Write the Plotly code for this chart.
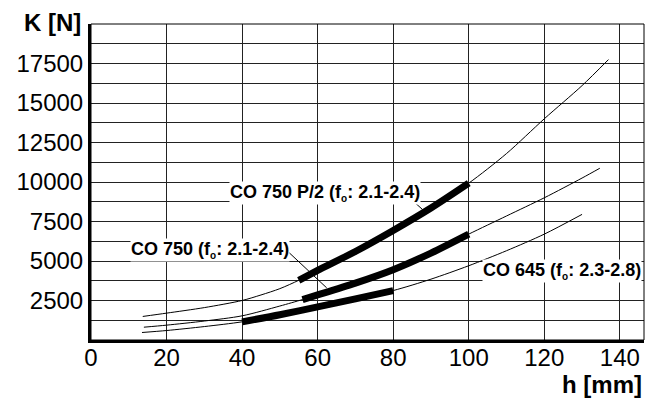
import plotly.graph_objects as go

# ---------------- data ----------------
h_p2 = [13.7, 20, 30, 40, 45, 50, 55, 60, 70, 80, 90, 100, 110, 120, 130, 137]
k_p2 = [1490, 1700, 2050, 2500, 2850, 3250, 3780, 4400, 5600, 6930, 8350, 9925, 11800, 14000, 16100, 17750]

h_750 = [14, 20, 30, 40, 50, 56, 60, 70, 80, 90, 100, 110, 120, 130, 134.7]
k_750 = [810, 940, 1200, 1530, 2150, 2560, 2850, 3600, 4450, 5500, 6700, 7850, 9000, 10250, 10870]

h_645 = [13.5, 20, 30, 40, 50, 60, 70, 80, 90, 100, 110, 120, 130]
k_645 = [475, 600, 850, 1150, 1600, 2100, 2600, 3130, 3850, 4700, 5650, 6700, 7950]

# working ranges drawn as thick bands
range_p2 = (55, 100)
range_750 = (56, 100)
range_645 = (40, 80)

SUB_O = "<sub><span style='font-size:10px'>o</span></sub>"
labels = ["CO 750 P/2 (f" + SUB_O + ": 2.1-2.4)",
          "CO 750 (f" + SUB_O + ": 2.1-2.4)",
          "CO 645 (f" + SUB_O + ": 2.3-2.8)"]

x_ticks = [0, 20, 40, 60, 80, 100, 120, 140]
y_ticks = [2500, 5000, 7500, 10000, 12500, 15000, 17500]
y_minor_step = 1250

FONT = "Liberation Sans, Arial, sans-serif"

fig = go.Figure()

def add_curve(h, k, rng):
    fig.add_trace(go.Scatter(x=h, y=k, mode="lines", line=dict(color="black", width=1, shape="spline", smoothing=0.8),
                             hoverinfo="skip", showlegend=False))
    hs = [a for a in h if rng[0] <= a <= rng[1]]
    ks = [b for a, b in zip(h, k) if rng[0] <= a <= rng[1]]
    fig.add_trace(go.Scatter(x=hs, y=ks, mode="lines", line=dict(color="black", width=7, shape="spline", smoothing=0.8),
                             hoverinfo="skip", showlegend=False))

add_curve(h_p2, k_p2, range_p2)
add_curve(h_750, k_750, range_750)
add_curve(h_645, k_645, range_645)

# leader lines
fig.add_shape(type="line", x0=86.0, y0=8640, x1=87.8, y1=8250, line=dict(color="black", width=1), layer="above")
fig.add_shape(type="line", x0=52.4, y0=5540, x1=62.4, y1=3300, line=dict(color="black", width=1), layer="above")

# thin frame (top/right)
fig.add_shape(type="rect", xref="paper", yref="paper", x0=0, y0=0, x1=1, y1=1,
              line=dict(color="black", width=1), layer="above")

ann_font = dict(family=FONT, size=18, color="black")
fig.add_annotation(x=62.0, y=9274, text="<b>" + labels[0] + "</b>", showarrow=False,
                   font=ann_font, bgcolor="white", borderpad=0, xanchor="center", yanchor="middle")
fig.add_annotation(x=31.5, y=5665, text="<b>" + labels[1] + "</b>", showarrow=False,
                   font=ann_font, bgcolor="white", borderpad=0, xanchor="center", yanchor="middle")
fig.add_annotation(x=146.0, y=4355, text="<b>" + labels[2] + "</b>", showarrow=False,
                   font=ann_font, bgcolor="white", borderpad=0, xanchor="right", yanchor="middle")

# axis titles
fig.add_annotation(xref="paper", yref="paper", x=0, y=1, text="<b>K [N]</b>", showarrow=False,
                   font=dict(family=FONT, size=24, color="black"), xanchor="right", yanchor="middle",
                   xshift=-8, yshift=2)
fig.add_annotation(xref="paper", yref="paper", x=1, y=0, text="<b>h [mm]</b>", showarrow=False,
                   font=dict(family=FONT, size=24, color="black"), xanchor="right", yanchor="middle",
                   xshift=0, yshift=-44)

fig.update_layout(
    width=658, height=398,
    margin=dict(l=91, r=14, t=24, b=58, autoexpand=False),
    paper_bgcolor="white", plot_bgcolor="white",
    font=dict(family=FONT, color="black"),
    xaxis=dict(range=[0, 146.4], tickmode="array", tickvals=x_ticks, ticktext=[str(v) for v in x_ticks],
               showgrid=True, gridcolor="#222", gridwidth=1, zeroline=False, automargin=False,
               showline=True, linecolor="black", linewidth=3, ticks="", ticklabelstandoff=-6,
               tickfont=dict(family=FONT, size=24, color="black")),
    yaxis=dict(range=[0, 20000], tickmode="array", tickvals=y_ticks, ticktext=[str(v) for v in y_ticks],
               showgrid=True, gridcolor="#222", gridwidth=1, zeroline=False, automargin=False,
               showline=True, linecolor="black", linewidth=3, ticks="",
               minor=dict(tickmode="linear", tick0=0, dtick=y_minor_step, showgrid=True,
                          gridcolor="#222", gridwidth=1, ticks=""),
               tickfont=dict(family=FONT, size=24, color="black")),
)

fig.write_html("out.html", config={"displayModeBar": False},
               post_script="document.body.style.margin='0';document.body.style.overflow='hidden';")
